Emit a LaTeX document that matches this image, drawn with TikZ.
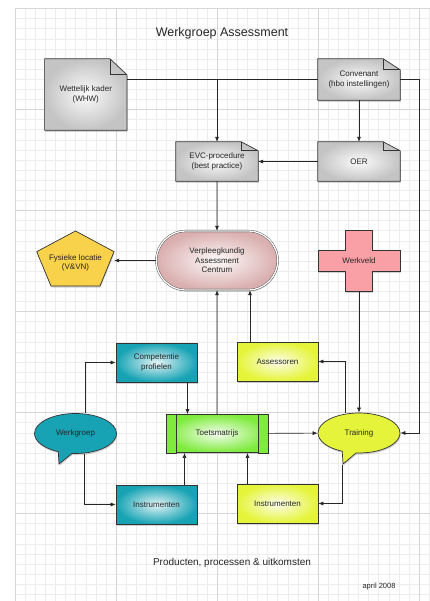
\documentclass[tikz,border=0pt]{standalone}
\usepackage{fontspec}
\setmainfont{Liberation Sans}
\usetikzlibrary{shapes.geometric, shapes.misc, shapes.callouts, arrows.meta, shadows, calc}
\pgfdeclarelayer{gridlayer}
\pgfdeclarelayer{background}
\pgfsetlayers{gridlayer,background,main}
\definecolor{notegray}{HTML}{C4C4C4}
\definecolor{vacpink}{HTML}{DAAFAF}
\definecolor{locyellow}{HTML}{F9D24B}
\definecolor{fieldpink}{HTML}{F8A0A6}
\definecolor{groupteal}{HTML}{17A3B4}
\definecolor{trainyellow}{HTML}{E5F43A}
\definecolor{matrixgreen}{HTML}{7EEB3D}

\begin{document}
\begin{tikzpicture}[x=1pt, y=-1pt, font=\fontsize{8}{9.6}\selectfont, text=black!85]
% Styles
\tikzstyle{gridminor} = [draw=black!7, line width=0.4pt]
\tikzstyle{gridmajor} = [draw=black!16, line width=0.6pt]
\tikzstyle{shadowed} = [drop shadow={shadow xshift=0.6pt, shadow yshift=-1.6pt, opacity=0.35}]
\tikzstyle{plain} = [rectangle, align=center, inner sep=0pt]
\tikzstyle{notebody} = [draw=black!80, line width=0.7pt, inner color=gray!3, outer color=notegray, shadowed]
\tikzstyle{notefold} = [draw=black!80, line width=0.6pt]
\tikzstyle{flatbody} = [draw=black!80, line width=0.7pt, shadowed]
\tikzstyle{centre} = [rounded rectangle, minimum width=128pt, minimum height=59pt, align=center, draw=black!75, double=white, double distance=1.3pt, inner color=vacpink!6, outer color=vacpink, shadowed]
\tikzstyle{process} = [rectangle, minimum width=81pt, minimum height=39pt, align=center, draw=black!80, line width=0.7pt, shadowed]
\tikzstyle{tealbox} = [process, inner color=groupteal!12, outer color=groupteal]
\tikzstyle{yellowbox} = [process, inner color=trainyellow!10, outer color=trainyellow]
\tikzstyle{strip} = [draw=black!80, line width=0.7pt, fill=matrixgreen]
\tikzstyle{bubble} = [ellipse callout, minimum width=82pt, minimum height=40pt, inner sep=0pt, draw=black!80, line width=0.7pt, callout pointer arc=20, shadowed]
\tikzstyle{link} = [draw=black!85, line width=0.6pt]
\tikzstyle{arrow} = [link, -{Latex[length=5pt, width=4pt]}]

\useasboundingbox (0,0) rectangle (430,601);

% Grid paper
\begin{pgfonlayer}{gridlayer}
\fill[white] (0,0) rectangle (430,601);
\foreach \i in {0,...,41} \draw[gridminor] ({15+10.1*\i},8.5) -- ({15+10.1*\i},601);
\foreach \j in {0,...,58} \draw[gridminor] (15,{8.5+10.1*\j}) -- (430,{8.5+10.1*\j});
\foreach \i in {0,...,4} \draw[gridmajor] ({15+101*\i},8.5) -- ({15+101*\i},601);
\foreach \j in {0,...,5} \draw[gridmajor] (15,{8.5+101*\j}) -- (430,{8.5+101*\j});
\end{pgfonlayer}

\node (title) at (222,33) [font=\fontsize{12.5}{15}\selectfont] {Werkgroep Assessment};

% Documents
\node (wet) at (85.8,94.5) [plain, minimum width=82pt, minimum height=71pt] {Wettelijk kader\\(WHW)};
\node (conv) at (359,79.5) [plain, minimum width=82pt, minimum height=41pt] {Convenant\\(hbo instellingen)};
\node (evc) at (217,161.5) [plain, minimum width=82pt, minimum height=39pt] {EVC-procedure\\(best practice)};
\node (oer) at (359,161.5) [plain, minimum width=82pt, minimum height=39pt] {OER};

% Centre and surroundings
\node (vac) at (217,260.5) [centre] {Verpleegkundig\\Assessment\\Centrum};
\node (fys) at (75.5,263) [plain, minimum width=77pt, minimum height=55pt] {Fysieke locatie\\(V\&VN)};
\node (werk) at (359,261) [plain, minimum width=82pt, minimum height=61pt] {Werkveld};

% Products and processes
\coordinate (wgtip) at (59,464);
\coordinate (traintip) at (343,464);
\node (comp) at (156.5,362.5) [tealbox] {Competentie\\profielen};
\node (ass) at (277.5,361.5) [yellowbox] {Assessoren};
\node (tm) at (217,433.5) [process, minimum width=101pt, minimum height=38pt, inner color=matrixgreen!8, outer color=matrixgreen] {Toetsmatrijs};
\node (wg) at (75.5,433.5) [bubble, fill=groupteal, callout absolute pointer={(wgtip)}] {Werkgroep};
\node (train) at (359,433) [bubble, fill=trainyellow, callout absolute pointer={(traintip)}] {Training};
\node (inst1) at (156.5,504.5) [tealbox] {Instrumenten};
\node (inst2) at (277.5,503.5) [yellowbox] {Instrumenten};

\node (products) at (232,563) [font=\fontsize{10}{12}\selectfont] {Producten, processen \& uitkomsten};
\node (date) at (379,587) [font=\fontsize{7.5}{9}\selectfont] {april 2008};

\draw[strip] (tm.north west) rectangle ([xshift=10pt]tm.south west);
\draw[strip] (tm.north east) rectangle ([xshift=-10pt]tm.south east);

% Outlines behind the texts
\begin{pgfonlayer}{background}
\foreach \n/\f in {wet/16, conv/11, evc/9, oer/9} {
  \draw[notebody] (\n.south west) -- (\n.north west) -- ([xshift=-17]\n.north east) -- ([yshift=-\f]\n.north east) -- (\n.south east) -- cycle;
  \draw[notefold] ([xshift=-17]\n.north east) |- ([yshift=-\f]\n.north east);
}
\draw[flatbody, fill=locyellow] ($(fys.center)+(0,-32)$) -- ($(fys.center)+(-38.8,-11.3)$) -- ($(fys.center)+(-24.5,23)$) -- ($(fys.center)+(24.5,23)$) -- ($(fys.center)+(38.5,-11.3)$) -- cycle;
\draw[flatbody, fill=fieldpink] ([xshift=-13.5]werk.north) -- ++(27,0) -- ++(0,20) -- ++(27.5,0) -- ++(0,21) -- ++(-27.5,0) -- ++(0,20) -- ++(-27,0) -- ++(0,-20) -- ++(-27.5,0) -- ++(0,-21) -- ++(27.5,0) -- cycle;
\end{pgfonlayer}

% Connectors
\draw[link] (wet.east |- conv.west) -- (conv.west);
\draw[arrow] (evc.north |- conv.west) -- (evc.north);
\draw[arrow] (conv.east) -- ++(19,0) |- (train.east);
\draw[arrow] (conv) -- (oer);
\draw[arrow] (oer) -- (evc);
\draw[arrow] (evc) -- (vac);
\draw[arrow] (vac.west) -- (vac.west -| fys.east);
\draw[arrow] (werk) -- (train);
\draw[arrow] (tm) -- (vac);
\draw[arrow] ([xshift=-27.5]ass.north) -- ([xshift=-27.5]ass.north |- vac.south);
\draw[arrow] ([xshift=31]comp.south) -- ([xshift=31]comp.south |- tm.north);
\draw[arrow] ([xshift=10]wg.north) |- (comp.west);
\draw[arrow] ([xshift=9]wg.south) |- (inst1.west);
\draw[arrow] ([xshift=28]inst1.north) -- ([xshift=28]inst1.north |- tm.south);
\draw[arrow] ([xshift=-30]inst2.north) -- ([xshift=-30]inst2.north |- tm.south);
\draw[arrow] (tm) -- (train);
\draw[arrow] ([xshift=-14]train.north) |- (ass.east);
\draw[arrow] (train.pointer) |- (inst2.east);

\end{tikzpicture}
\end{document}
